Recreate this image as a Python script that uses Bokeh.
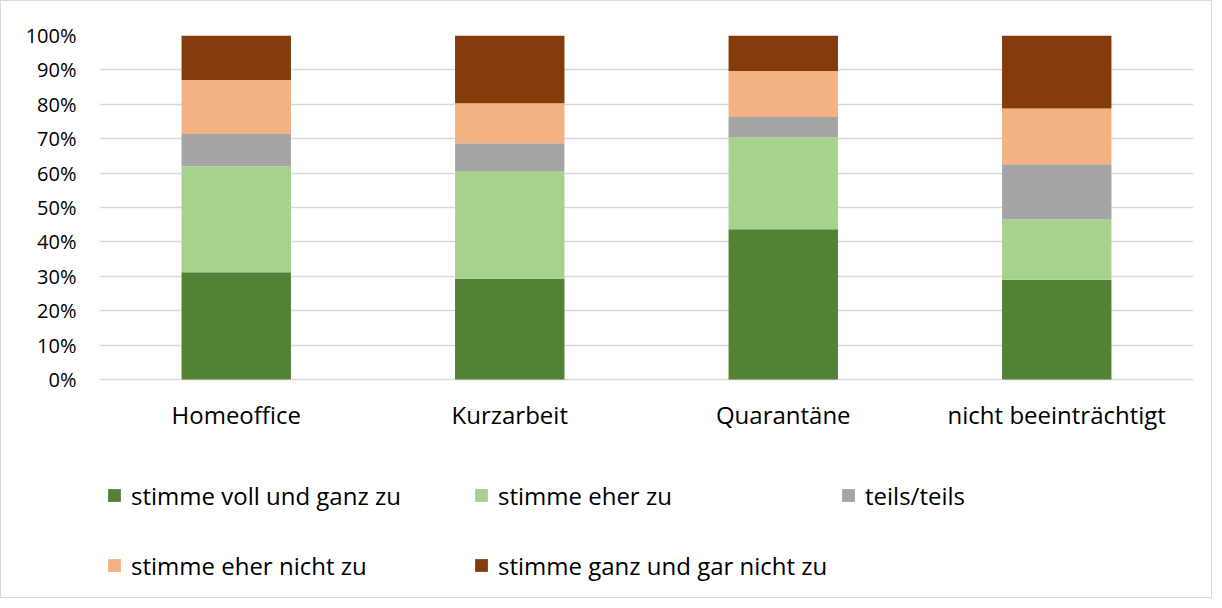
from bokeh.plotting import figure
from bokeh.models import FactorRange, Range1d, NumeralTickFormatter, FixedTicker, Legend, LegendItem
from bokeh.embed import file_html
from bokeh.resources import INLINE

categories = ["Homeoffice", "Kurzarbeit", "Quarantäne", "nicht beeinträchtigt"]
series = ["stimme voll und ganz zu", "stimme eher zu", "teils/teils",
          "stimme eher nicht zu", "stimme ganz und gar nicht zu"]
voll = [0.312, 0.293, 0.437, 0.290]
eher = [0.308, 0.313, 0.267, 0.175]
teils = [0.094, 0.081, 0.059, 0.161]
eher_nicht = [0.157, 0.116, 0.134, 0.162]
gar_nicht = [0.129, 0.197, 0.103, 0.212]
colors = ["#548235", "#A9D18E", "#A5A5A5", "#F4B183", "#843C0C"]
yticks = [0, 0.1, 0.2, 0.3, 0.4, 0.5, 0.6, 0.7, 0.8, 0.9, 1.0]

keys = ["voll", "eher", "teils", "eher_nicht", "gar_nicht"]
data = dict(cat=categories, voll=voll, eher=eher, teils=teils,
            eher_nicht=eher_nicht, gar_nicht=gar_nicht)

FONT = "Open Sans"
W, H = 1212, 598
TOP, ZERO = 34, 378                 # pixel rows of 100% and 0%
y_start = -(H - ZERO) / (ZERO - TOP)  # frame extends down to hold the legend

p = figure(x_range=FactorRange(*categories, range_padding=0),
           y_range=Range1d(y_start, 1), width=W, height=H,
           output_backend="svg", toolbar_location=None,
           min_border_left=98, min_border_right=W - 1192,
           min_border_top=TOP, min_border_bottom=0)
p.styles = {"border": "1px solid #D9D9D9"}
p.outline_line_color = None

rs = p.vbar_stack(keys, x="cat", width=0.4, color=colors, source=data,
                  line_color=None)

p.yaxis.ticker = FixedTicker(ticks=yticks)
p.yaxis.formatter = NumeralTickFormatter(format="0%")
p.yaxis.axis_line_color = None
p.yaxis.major_tick_line_color = None
p.yaxis.minor_tick_line_color = None
p.yaxis.major_label_standoff = 17
p.yaxis.major_label_text_font = FONT
p.yaxis.major_label_text_font_size = "20px"
p.yaxis.major_label_text_color = "#000000"

p.xaxis.fixed_location = 0
p.xaxis.axis_line_color = None
p.xaxis.major_tick_line_color = None
p.xaxis.minor_tick_line_color = None
p.xaxis.major_label_standoff = 12
p.xaxis.major_label_text_font = FONT
p.xaxis.major_label_text_font_size = "24px"
p.xaxis.major_label_text_color = "#000000"

p.xgrid.grid_line_color = None
p.ygrid.grid_line_color = "#D9D9D9"
p.ygrid.grid_line_width = 1.5

rows = [(series[:3], rs[:3], (7, 87)), (series[3:], rs[3:], (7, 17))]
for names, rends, loc in rows:
    lg = Legend(items=[LegendItem(label=n, renderers=[r]) for n, r in zip(names, rends)],
                location=loc, orientation="horizontal",
                padding=0, margin=0, spacing=10,
                border_line_color=None, background_fill_alpha=0,
                glyph_width=16, glyph_height=16, label_standoff=9,
                label_width=332, label_height=34,
                label_text_font=FONT, label_text_font_size="24px",
                label_text_color="#000000")
    p.add_layout(lg, "center")

open("out.html", "w").write(file_html(p, INLINE))
